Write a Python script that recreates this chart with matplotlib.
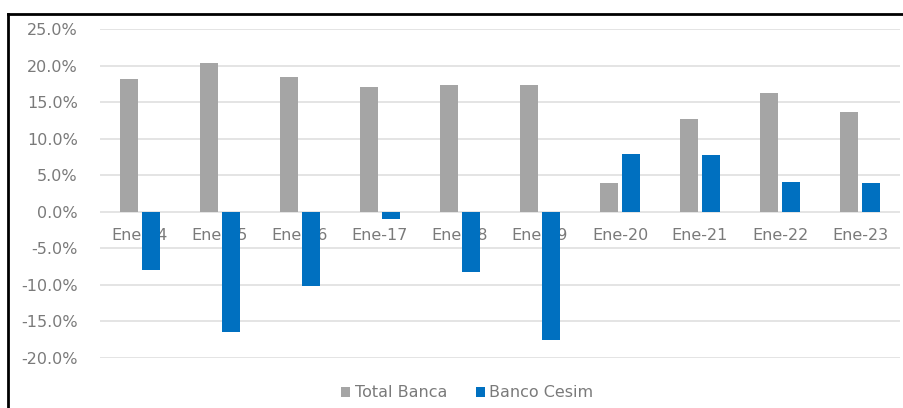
import matplotlib.pyplot as plt
import numpy as np
from matplotlib.lines import Line2D
from matplotlib.ticker import FuncFormatter

plt.rcParams['font.family'] = ['DejaVu Sans']

# rentabilidad anual (%) por corte de enero
periodos = ['Ene-14', 'Ene-15', 'Ene-16', 'Ene-17', 'Ene-18',
            'Ene-19', 'Ene-20', 'Ene-21', 'Ene-22', 'Ene-23']
total_banca = [18.2, 20.4, 18.4, 17.0, 17.3, 17.3, 3.9, 12.7, 16.3, 13.6]
banco_cesim = [-8.0, -16.4, -10.1, -1.0, -8.3, -17.6, 7.9, 7.8, 4.1, 3.9]

GRIS = '#A5A5A5'
AZUL = '#0070C0'
TEXTO = '#7A7A7A'

fig = plt.figure(figsize=(9.04, 4.08), dpi=100)
ax = fig.add_axes([100/904, 50/408, 800/904, 329/408])

x = np.arange(len(periodos))
ancho = 0.23
ax.bar(x - 0.14, total_banca, ancho, color=GRIS, label='Total Banca', zorder=1)
ax.bar(x + 0.14, banco_cesim, ancho, color=AZUL, label='Banco Cesim', zorder=1)

ax.set_xlim(-0.5, len(periodos) - 0.5)
ax.set_ylim(-20, 25)
ax.set_yticks(np.arange(-20, 26, 5))
ax.yaxis.set_major_formatter(FuncFormatter(lambda v, p: f'{v:.1f}%'))
ax.grid(axis='y', color='#DDDDDD', linewidth=1.1)
ax.set_axisbelow(True)

# etiquetas de categoria sobre la linea del cero, por debajo de las barras
ax.spines['bottom'].set_position(('data', 0))
for s in ax.spines.values():
    s.set_visible(False)
ax.set_xticks(x)
ax.set_xticklabels(periodos)
ax.tick_params(axis='x', length=0, pad=11.5, labelsize=11.5, labelcolor=TEXTO)
ax.tick_params(axis='y', length=0, pad=16, labelsize=11.5, labelcolor=TEXTO)

leg = fig.legend(loc='center', bbox_to_anchor=(0.517, 0.037), ncol=2,
                 frameon=False, fontsize=11.5, handlelength=0.55, handleheight=0.55,
                 handletextpad=0.3, columnspacing=1.8)
for t in leg.get_texts():
    t.set_color(TEXTO)

# marco negro (borde izquierdo y superior)
fig.add_artist(Line2D([7.5/904, 7.5/904], [0, 1 - 14/408], color='black',
                      linewidth=2, transform=fig.transFigure))
fig.add_artist(Line2D([7.5/904, 1], [1 - 14/408, 1 - 14/408], color='black',
                      linewidth=2, transform=fig.transFigure))

fig.savefig('out.png', dpi=100)
